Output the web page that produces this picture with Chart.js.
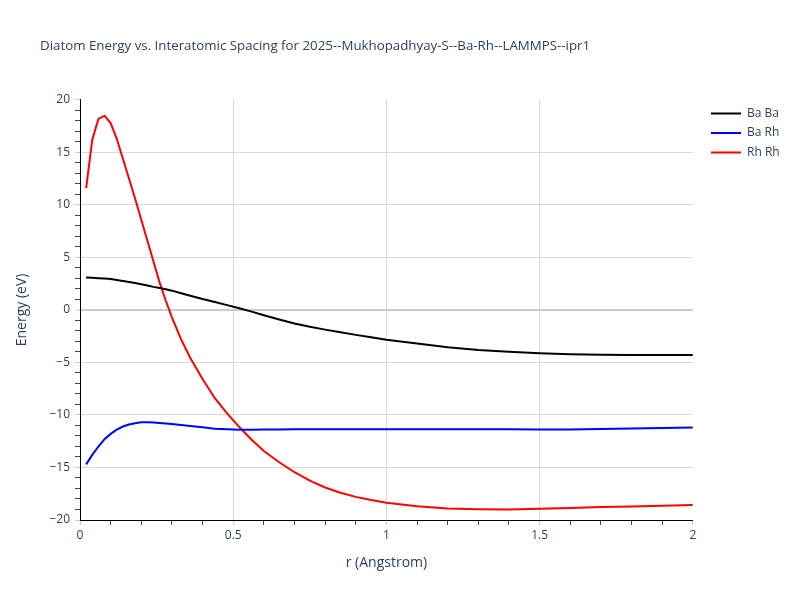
<!DOCTYPE html>
<html>
<head>
<meta charset="utf-8">
<script src="https://cdn.jsdelivr.net/npm/chart.js@4"></script>
<style>
    body { margin: 0; background: #fff; }
</style>
</head>
<body>
<canvas id="diatomChart" width="800" height="600"></canvas>
<script>
// ===============================
// Data
// ===============================
const rValues = [0.02, 0.04, 0.06, 0.08, 0.10, 0.12, 0.14, 0.16, 0.18, 0.20,
    0.22, 0.24, 0.26, 0.28, 0.30, 0.33, 0.36, 0.40, 0.44, 0.48,
    0.52, 0.56, 0.60, 0.65, 0.70, 0.75, 0.80, 0.85, 0.90, 0.95,
    1.00, 1.10, 1.20, 1.30, 1.40, 1.50, 1.60, 1.70, 1.80, 1.90, 2.00];

const baBa = [3.10, 3.07, 3.03, 3.00, 2.95, 2.86, 2.76, 2.66, 2.56, 2.45,
    2.33, 2.20, 2.10, 1.97, 1.84, 1.60, 1.35, 1.04, 0.76, 0.46,
    0.16, -0.16, -0.50, -0.90, -1.28, -1.60, -1.87, -2.12, -2.37, -2.60,
    -2.83, -3.20, -3.55, -3.80, -3.98, -4.13, -4.22, -4.27, -4.29, -4.29, -4.29];

const baRh = [-14.7, -13.8, -13.0, -12.3, -11.8, -11.4, -11.1, -10.9, -10.78, -10.7,
    -10.7, -10.72, -10.76, -10.8, -10.86, -10.95, -11.05, -11.17, -11.3, -11.36,
    -11.4, -11.4, -11.39, -11.37, -11.36, -11.35, -11.35, -11.35, -11.35, -11.35,
    -11.35, -11.35, -11.35, -11.35, -11.36, -11.37, -11.38, -11.33, -11.28, -11.24, -11.2];

const rhRh = [11.6, 16.2, 18.2, 18.5, 17.8, 16.3, 14.4, 12.5, 10.6, 8.6,
    6.6, 4.6, 2.6, 0.88, -0.7, -2.8, -4.57, -6.57, -8.4, -9.85,
    -11.15, -12.35, -13.43, -14.5, -15.45, -16.25, -16.9, -17.4, -17.8, -18.1,
    -18.35, -18.7, -18.9, -18.98, -19.0, -18.93, -18.85, -18.77, -18.72, -18.65, -18.57];

const seriesNames = ["Ba Ba", "Ba Rh", "Rh Rh"];
const seriesColors = ["#000000", "#0000ff", "#ff0000"];

const textColor = "#2a3f5f";
const fontFamily = "'Open Sans', 'DejaVu Sans', sans-serif";
const legendPadding = 7.5;

function toPoints(values) {
    return rValues.map((r, i) => ({ x: r, y: values[i] }));
}

function minus(v) {
    return String(v).replace("-", "\u2212");
}

function makeDataset(i, values) {
    return {
        label: seriesNames[i],
        data: toPoints(values),
        borderColor: seriesColors[i],
        backgroundColor: seriesColors[i],
        borderWidth: 2
    };
}

// nudge title and legend to where the reference has them
const nudge = {
    id: "nudge",
    afterLayout(chart) {
        if (chart.titleBlock) {
            chart.titleBlock.left = 40;
        }
        if (chart.legend) {
            const shift = 711 - (chart.legend.left + legendPadding);
            chart.legend.left += shift;
            chart.legend.right += shift;
        }
    }
};

new Chart(document.getElementById("diatomChart"), {
    type: "line",
    data: {
        datasets: [
            makeDataset(0, baBa),
            makeDataset(1, baRh),
            makeDataset(2, rhRh)
        ]
    },
    options: {
        responsive: false,
        animation: false,
        elements: {
            point: { radius: 0 },
            line: { borderWidth: 2, tension: 0 }
        },
        layout: {
            padding: { left: 0, right: 21, top: 0, bottom: 0 }
        },
        plugins: {
            title: {
                display: true,
                text: "Diatom Energy vs. Interatomic Spacing for 2025--Mukhopadhyay-S--Ba-Rh--LAMMPS--ipr1",
                align: "start",
                color: textColor,
                font: { family: fontFamily, size: 13.3, weight: "normal" },
                padding: { top: 38, bottom: 46 }
            },
            legend: {
                position: "right",
                align: "start",
                fullSize: false,
                labels: {
                    color: textColor,
                    font: { family: fontFamily, size: 12 },
                    usePointStyle: true,
                    pointStyle: "line",
                    pointStyleWidth: 30,
                    padding: legendPadding
                }
            },
            tooltip: { enabled: false }
        },
        scales: {
            x: {
                type: "linear",
                min: 0,
                max: 2,
                afterFit(scale) { scale.height = 80; },
                ticks: {
                    stepSize: 0.1,
                    autoSkip: false,
                    maxRotation: 0,
                    padding: 3,
                    color: textColor,
                    font: { family: fontFamily, size: 12 },
                    callback: function (value) {
                        const half = Math.round(value * 2);
                        if (Math.abs(value * 2 - half) < 1e-6) {
                            return String(half / 2);
                        }
                        return "";
                    }
                },
                grid: {
                    color: function (ctx) {
                        const v = ctx.tick ? ctx.tick.value : 0;
                        const half = Math.abs(v * 2 - Math.round(v * 2)) < 1e-6;
                        if (!half || v < 1e-6 || v > 1.999) return "rgba(0,0,0,0)";
                        return "#d9d9d9";
                    },
                    tickColor: function (ctx) {
                        const v = ctx.tick ? ctx.tick.value : 0;
                        return Math.abs(v * 2 - Math.round(v * 2)) < 1e-6 ? "#cccccc" : "#444444";
                    },
                    tickLength: 5,
                    tickWidth: 1
                },
                border: { color: "#000000", width: 1 },
                title: {
                    display: true,
                    text: "r (Angstrom)",
                    color: textColor,
                    font: { family: fontFamily, size: 14 },
                    padding: { top: 0, bottom: 28.6 }
                }
            },
            y: {
                min: -20,
                max: 20,
                afterFit(scale) { scale.width = 80; },
                ticks: {
                    stepSize: 1,
                    autoSkip: false,
                    padding: 5,
                    color: textColor,
                    font: { family: fontFamily, size: 12 },
                    callback: function (value) {
                        return value % 5 === 0 ? minus(value) : "";
                    }
                },
                grid: {
                    color: function (ctx) {
                        const v = ctx.tick ? ctx.tick.value : 0;
                        if (v % 5 !== 0 || v === 20) return "rgba(0,0,0,0)";
                        return v === 0 ? "#cccccc" : "#d9d9d9";
                    },
                    lineWidth: function (ctx) {
                        return ctx.tick && ctx.tick.value === 0 ? 2 : 1;
                    },
                    tickColor: function (ctx) {
                        const v = ctx.tick ? ctx.tick.value : 0;
                        return v % 5 === 0 ? "#cccccc" : "#444444";
                    },
                    tickLength: 5,
                    tickWidth: 1
                },
                border: { color: "#000000", width: 1 },
                title: {
                    display: true,
                    text: "Energy (eV)",
                    color: textColor,
                    font: { family: fontFamily, size: 14 },
                    padding: { top: 13.6, bottom: 0 }
                }
            }
        }
    },
    plugins: [nudge]
});
</script>
</body>
</html>
